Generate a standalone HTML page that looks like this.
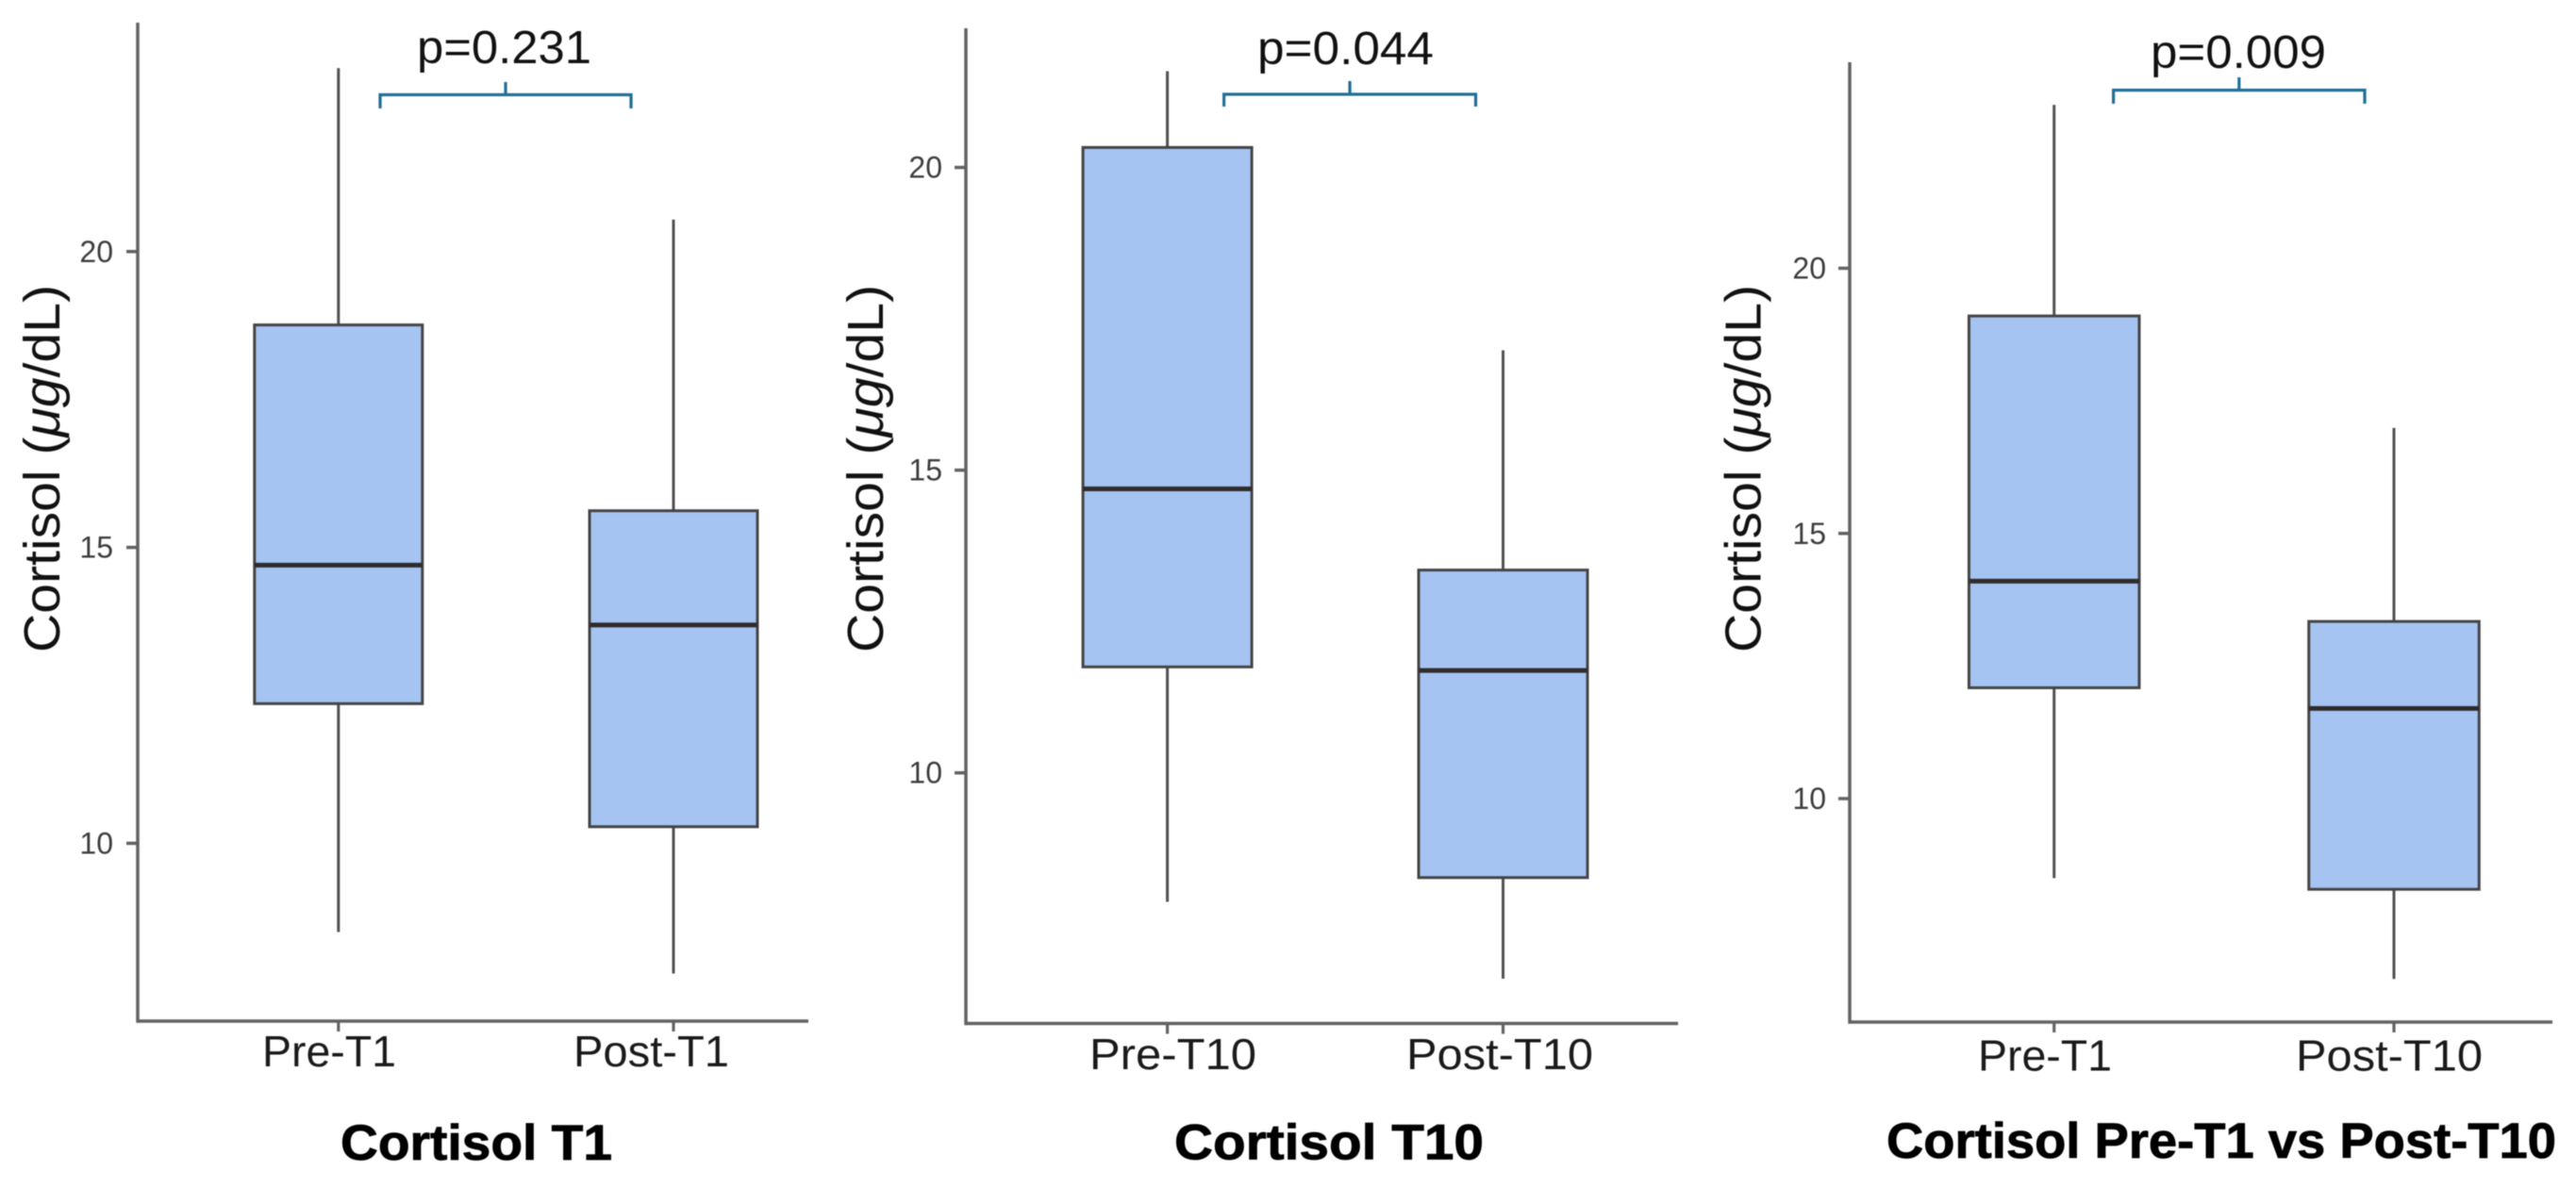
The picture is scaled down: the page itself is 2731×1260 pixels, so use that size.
<!DOCTYPE html>
<html lang="en">
<head>
<meta charset="utf-8">
<title>Cortisol box plots</title>
<style>
  html, body { margin: 0; padding: 0; background: #fff; }
  body { width: 2731px; height: 1260px; overflow: hidden; }
  svg { display: block; font-family: "Liberation Sans", sans-serif; filter: blur(0.6px); }
</style>
</head>
<body>
<svg id="chart" xmlns="http://www.w3.org/2000/svg" width="2731" height="1260" viewBox="0 0 2731 1260"></svg>
<script>
// ---- Data: [whisker low, Q1, median, Q3, whisker high] ----
const t1Categories = ['Pre-T1', 'Post-T1'];
const t1PreStats = [8.5, 12.36, 14.7, 18.76, 23.1];
const t1PostStats = [7.8, 10.28, 13.69, 15.62, 20.54];
const t1PValue = 'p=0.231';

const t10Categories = ['Pre-T10', 'Post-T10'];
const t10PreStats = [7.87, 11.75, 14.69, 20.33, 21.59];
const t10PostStats = [6.6, 8.27, 11.69, 13.35, 16.98];
const t10PValue = 'p=0.044';

const crossCategories = ['Pre-T1', 'Post-T10'];
const crossPreStats = [8.5, 12.09, 14.1, 19.1, 23.08];
const crossPostStats = [6.6, 8.29, 11.7, 13.34, 16.99];
const crossPValue = 'p=0.009';

const yTickValues = [10, 15, 20];

// ---- Layout ----
const panels = [
  { id: 't1', title: 'Cortisol T1', cats: t1Categories, stats: [t1PreStats, t1PostStats], p: t1PValue,
    axisX: 146, axisTop: 24, axisBottom: 1083, axisRight: 857, y20: 266.8, y10: 894.4,
    centers: [358.8, 714], boxW: 178,
    bracket: { l: 403, r: 669, y: 100.5, down: 115, up: 87 },
    pText: { x: 442, w: 185, y: 67 },
    labels: [{ x: 278, w: 142 }, { x: 608, w: 165 }], labelY: 1131,
    titleText: { x: 361, w: 288, y: 1230 },
    yTitleX: 63, tickRight: 120 },
  { id: 't10', title: 'Cortisol T10', cats: t10Categories, stats: [t10PreStats, t10PostStats], p: t10PValue,
    axisX: 1024, axisTop: 30, axisBottom: 1085.5, axisRight: 1779, y20: 177.6, y10: 819.7,
    centers: [1237.6, 1593.5], boxW: 179,
    bracket: { l: 1297.6, r: 1564.5, y: 100, down: 113, up: 86 },
    pText: { x: 1333, w: 187, y: 68 },
    labels: [{ x: 1155, w: 177 }, { x: 1491, w: 198 }], labelY: 1134,
    titleText: { x: 1245, w: 328, y: 1229.5 },
    yTitleX: 936, tickRight: 999 },
  { id: 'cross', title: 'Cortisol Pre-T1 vs Post-T10', cats: crossCategories, stats: [crossPreStats, crossPostStats], p: crossPValue,
    axisX: 1961, axisTop: 66, axisBottom: 1084, axisRight: 2706, y20: 284.5, y10: 847,
    centers: [2177.7, 2538], boxW: 180.5,
    bracket: { l: 2240.6, r: 2507, y: 95.6, down: 110, up: 82 },
    pText: { x: 2280, w: 186, y: 72 },
    labels: [{ x: 2097, w: 142 }, { x: 2434, w: 198 }], labelY: 1135.5,
    titleText: { x: 2000, w: 710, y: 1228 },
    yTitleX: 1866.5, tickRight: 1936 }
];

const svg = document.getElementById('chart');
const NS = 'http://www.w3.org/2000/svg';

function mk(parent, tag, attrs, text) {
  const node = document.createElementNS(NS, tag);
  for (const k in attrs) node.setAttribute(k, attrs[k]);
  if (text !== undefined) node.textContent = text;
  parent.appendChild(node);
  return node;
}

const AXIS = '#626262', WHISK = '#505050', EDGE = '#444444', MED = '#302c2c', FILL = '#a5c4f2', BRACKET = '#1f6f96';

panels.forEach(function (p) {
  // Linear y axis function for this panel
  const pxPerUnit = (p.y10 - p.y20) / 10;
  const yScale = function (v) { return p.y20 + (20 - v) * pxPerUnit; };
  let el;

  const g = mk(svg, 'g', {});
  
  

  // Axis lines
  el = mk(g, 'line', { x1: p.axisX, x2: p.axisX, y1: p.axisTop, y2: p.axisBottom + 1.75, stroke: AXIS, 'stroke-width': 3.5 });
  
  
  el = mk(g, 'line', { x1: p.axisX, x2: p.axisRight, y1: p.axisBottom, y2: p.axisBottom, stroke: AXIS, 'stroke-width': 3.5 });
  
  

  // Y ticks and labels
  yTickValues.forEach(function (v) {
    const ty = yScale(v);
    el = mk(g, 'line', { x1: p.axisX - 12, x2: p.axisX, y1: ty, y2: ty, stroke: AXIS, 'stroke-width': 3.5 });
    
    
    el = mk(g, 'text', { x: p.tickRight, y: ty + 11, 'text-anchor': 'end', 'font-size': 32, fill: '#3d3d3d' }, String(v));
    
    
  });

  // Y axis title
  el = mk(g, 'text', { transform: 'translate(' + p.yTitleX + ',692) rotate(-90)', 'font-size': 54, fill: '#111', textLength: 390, lengthAdjust: 'spacingAndGlyphs' });
  
  
  el.appendChild(document.createTextNode('Cortisol ('));
  mk(el, 'tspan', { 'font-style': 'italic' }, '\u03BCg');
  el.appendChild(document.createTextNode('/dL)'));

  // Boxes
  p.stats.forEach(function (s, i) {
    const cx = p.centers[i];
    const cat = p.cats[i];
    const L = cx - p.boxW / 2;

    el = mk(g, 'line', { x1: cx, x2: cx, y1: p.axisBottom, y2: p.axisBottom + 11, stroke: AXIS, 'stroke-width': 3.2 });
    
    

    el = mk(g, 'line', { x1: cx, x2: cx, y1: yScale(s[4]), y2: yScale(s[3]), stroke: WHISK, 'stroke-width': 3 });
    
    

    el = mk(g, 'line', { x1: cx, x2: cx, y1: yScale(s[1]), y2: yScale(s[0]), stroke: WHISK, 'stroke-width': 3 });
    
    

    el = mk(g, 'rect', { x: L, y: yScale(s[3]), width: p.boxW, height: yScale(s[1]) - yScale(s[3]), fill: FILL, stroke: EDGE, 'stroke-width': 3 });
    
    

    el = mk(g, 'line', { x1: L, x2: L + p.boxW, y1: yScale(s[2]), y2: yScale(s[2]), stroke: MED, 'stroke-width': 5 });
    
    

    const lab = p.labels[i];
    el = mk(g, 'text', { x: lab.x, y: p.labelY, 'font-size': 46, fill: '#1a1a1a', textLength: lab.w, lengthAdjust: 'spacingAndGlyphs' }, cat);
    
    
  });

  // Significance bracket
  const b = p.bracket;
  const mid = (b.l + b.r) / 2;
  el = mk(g, 'path', { d: 'M' + b.l + ' ' + b.down + 'V' + b.y + 'H' + b.r + 'V' + b.down + 'M' + mid + ' ' + b.y + 'V' + b.up, fill: 'none', stroke: BRACKET, 'stroke-width': 3.2 });
  
  

  el = mk(g, 'text', { x: p.pText.x, y: p.pText.y, 'font-size': 49, fill: '#111', textLength: p.pText.w, lengthAdjust: 'spacingAndGlyphs' }, p.p);
  
  

  // Panel title under the axis
  el = mk(g, 'text', { x: p.titleText.x, y: p.titleText.y, 'font-size': 53, 'font-weight': 700, fill: '#000', stroke: '#000', 'stroke-width': 0.8, textLength: p.titleText.w, lengthAdjust: 'spacingAndGlyphs' }, p.title);
  
  
});
</script>
</body>
</html>
